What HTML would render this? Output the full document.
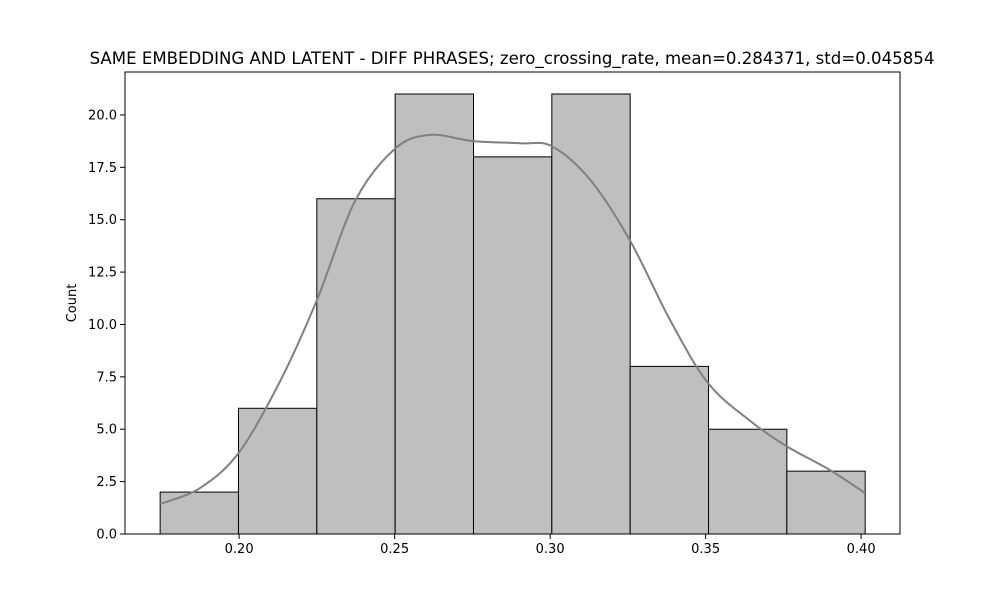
<!DOCTYPE html>
<html><head><meta charset="utf-8"><style>
body{margin:0;background:#fff}
svg{font-family:"DejaVu Sans","Liberation Sans",sans-serif}
</style></head><body>
<svg id="chart" width="1000" height="600" xmlns="http://www.w3.org/2000/svg">
<rect width="1000" height="600" fill="#fff"/>
<text x="512" y="64" text-anchor="middle" font-size="16.6">SAME EMBEDDING AND LATENT - DIFF PHRASES; zero_crossing_rate, mean=0.284371, std=0.045854</text>
<text transform="translate(76,303) rotate(-90)" text-anchor="middle" font-size="13">Count</text>
<g id="bars"></g>
<path id="kde" fill="none" stroke="#808080" stroke-width="2"/>
<g id="axes"></g>
</svg>
<script>
const binStart = 0.1746;
const binEnd = 0.4013;
const counts = [2, 6, 16, 21, 18, 21, 8, 5, 3];
const kdeX = [0.1746,0.1875,0.2,0.2132,0.2251,0.2373,0.2502,0.2614,0.2752,0.2904,0.3006,0.3129,0.3257,0.3386,0.3508,0.3643,0.3759,0.3900,0.4013];
const kdeY = [1.43,2.2,3.9,7.3,11.2,15.9,18.4,19.05,18.75,18.65,18.5,16.9,14.0,10.2,7.2,5.4,4.2,3.05,1.95];
const xTicks = [0.20,0.25,0.30,0.35,0.40];
const yTicks = [0,2.5,5,7.5,10,12.5,15,17.5,20];
const L=125,R=900,T=72,B=534;
const xmin=0.1633, xmax=0.1633+(R-L)/3110;
const ymax=22.05;
const sx=v=>L+(v-xmin)/(xmax-xmin)*(R-L);
const sy=v=>B-v/ymax*(B-T);
const NS="http://www.w3.org/2000/svg";
function mk(t,a,p){const e=document.createElementNS(NS,t);for(const k in a)e.setAttribute(k,a[k]);p.appendChild(e);return e;}
const bars=document.getElementById('bars');
const w=(binEnd-binStart)/counts.length;
counts.forEach((c,i)=>{
 const x0=sx(binStart+i*w),x1=sx(binStart+(i+1)*w);
 const r=mk('rect',{x:x0,y:sy(c),width:x1-x0,height:sy(0)-sy(c),fill:'#bfbfbf',stroke:'#000','stroke-width':1},bars);
 
 
});
const pts=kdeX.map((x,i)=>[sx(x),sy(kdeY[i])]);
let d='M'+pts[0][0]+','+pts[0][1];
for(let i=0;i<pts.length-1;i++){
 const p0=pts[Math.max(0,i-1)],p1=pts[i],p2=pts[i+1],p3=pts[Math.min(pts.length-1,i+2)];
 d+=' C'+(p1[0]+(p2[0]-p0[0])/6)+','+(p1[1]+(p2[1]-p0[1])/6)+' '+(p2[0]-(p3[0]-p1[0])/6)+','+(p2[1]-(p3[1]-p1[1])/6)+' '+p2[0]+','+p2[1];
}
document.getElementById('kde').setAttribute('d',d);
const ax=document.getElementById('axes');
const frame=mk('rect',{x:L,y:T,width:R-L,height:B-T,fill:'none',stroke:'#000','stroke-width':1},ax);


xTicks.forEach(v=>{
 const x=sx(v);
 mk('line',{x1:x,x2:x,y1:B,y2:B+5,stroke:'#000'},ax);
 const t=mk('text',{x:x,y:B+19,'text-anchor':'middle','font-size':13},ax);
 t.textContent=v.toFixed(2);
 
 
});
yTicks.forEach(v=>{
 const y=sy(v);
 mk('line',{x1:L-5,x2:L,y1:y,y2:y,stroke:'#000'},ax);
 const t=mk('text',{x:L-8,y:y+4.5,'text-anchor':'end','font-size':13},ax);
 t.textContent=v.toFixed(1);
 
 
});
</script>
</body></html>
